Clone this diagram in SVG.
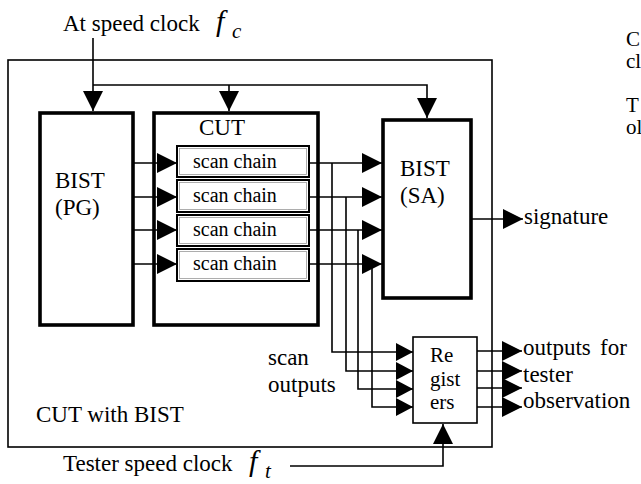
<svg xmlns="http://www.w3.org/2000/svg" width="641" height="484" viewBox="0 0 641 484">
  <style>
    text { font-family: "Liberation Serif", "Times New Roman", serif; fill: #000; }
    .t23 { font-size: 23px; }
    .t21 { font-size: 21px; }
    .t20 { font-size: 20px; }
    .it { font-style: italic; }
    .thin { fill: none; stroke: #000; stroke-width: 1.6; }
    .thick { fill: #fff; stroke: #000; stroke-width: 3.6; }
    .chain { fill: #fff; stroke: #000; stroke-width: 2; }
    .chain-in { fill: none; stroke: #999; stroke-width: 0.8; }
    .wire { fill: none; stroke: #000; stroke-width: 1.6; }
  </style>
  <defs>
    <marker id="ah" viewBox="0 0 20 20" refX="20" refY="10" markerWidth="20" markerHeight="20" markerUnits="userSpaceOnUse" orient="auto">
      <path d="M0,0 L20,10 L0,20 Z" fill="#000"/>
    </marker>
    <marker id="ahs" viewBox="0 0 17 18" refX="17" refY="9" markerWidth="17" markerHeight="18" markerUnits="userSpaceOnUse" orient="auto">
      <path d="M0,0 L17,9 L0,18 Z" fill="#000"/>
    </marker>
  </defs>

  <rect width="641" height="484" fill="#fff"/>

  <!-- clock labels -->
  <g id="clock-labels">
    <text class="t23" x="63" y="31">At speed clock</text>
    <text class="it" x="216" y="31" font-size="30">f</text>
    <text class="it" x="232" y="38" font-size="21">c</text>
    <text class="t23" x="63" y="471">Tester speed clock</text>
    <text class="it" x="249" y="471" font-size="30">f</text>
    <text class="it" x="265" y="478" font-size="21">t</text>
  </g>

  <!-- right margin text fragments -->
  <g id="margin-text">
    <text class="t21" x="626" y="46">C</text>
    <text class="t21" x="626" y="68">cl</text>
    <text class="t21" x="626" y="112">T</text>
    <text class="t21" x="626" y="134">ol</text>
  </g>

  <!-- enclosing chip -->
  <g id="cut-with-bist">
    <rect class="thin" x="8" y="60" width="484" height="387"/>
    <text class="t23" x="36" y="422">CUT with BIST</text>
  </g>

  <!-- pattern generator -->
  <g id="bist-pg">
    <rect class="thick" x="40" y="113" width="93" height="212"/>
    <text class="t23" x="55" y="188">BIST</text>
    <text class="t23" x="55" y="215">(PG)</text>
  </g>

  <!-- circuit under test with scan chains -->
  <g id="cut">
    <rect class="thick" x="154" y="113" width="164" height="212"/>
    <text class="t23" x="199" y="135">CUT</text>
    <rect class="chain" x="177" y="146" width="132" height="31"/>
    <rect class="chain-in" x="179.5" y="148.5" width="127" height="26"/>
    <text class="t20" x="193" y="168">scan chain</text>
    <rect class="chain" x="177" y="180" width="132" height="32"/>
    <rect class="chain-in" x="179.5" y="182.5" width="127" height="27"/>
    <text class="t20" x="193" y="202">scan chain</text>
    <rect class="chain" x="177" y="215" width="132" height="31"/>
    <rect class="chain-in" x="179.5" y="217.5" width="127" height="26"/>
    <text class="t20" x="193" y="236">scan chain</text>
    <rect class="chain" x="177" y="249" width="132" height="32"/>
    <rect class="chain-in" x="179.5" y="251.5" width="127" height="27"/>
    <text class="t20" x="193" y="270">scan chain</text>
  </g>

  <!-- signature analyser -->
  <g id="bist-sa">
    <rect class="thick" x="383" y="120" width="88" height="178"/>
    <text class="t23" x="400" y="176">BIST</text>
    <text class="t23" x="400" y="203">(SA)</text>
  </g>

  <!-- output registers -->
  <g id="registers">
    <rect class="thin" x="413" y="337" width="64" height="86" fill="#fff"/>
    <text class="t21" x="430" y="362">Re</text>
    <text class="t21" x="430" y="386">gist</text>
    <text class="t21" x="430" y="409">ers</text>
  </g>

  <!-- output labels -->
  <g id="labels">
    <text class="t23" x="268" y="365">scan</text>
    <text class="t23" x="268" y="392">outputs</text>
    <text class="t23" x="524" y="224">signature</text>
    <text class="t23" y="355"><tspan x="523">outputs</tspan><tspan x="600">for</tspan></text>
    <text class="t23" x="523" y="382">tester</text>
    <text class="t23" x="523" y="408">observation</text>
  </g>

  <g id="connectors">
    <!-- at-speed clock distribution -->
    <path class="wire" d="M93,38 V111" marker-end="url(#ah)"/>
    <path class="wire" d="M93,85 H427 V118" marker-end="url(#ah)"/>
    <path class="wire" d="M229,85 V111" marker-end="url(#ah)"/>

    <!-- pattern generator to scan chains -->
    <path class="wire" d="M133,163 H177" marker-end="url(#ah)"/>
    <path class="wire" d="M133,197 H177" marker-end="url(#ah)"/>
    <path class="wire" d="M133,230 H177" marker-end="url(#ah)"/>
    <path class="wire" d="M133,264 H177" marker-end="url(#ah)"/>

    <!-- scan chains to signature analyser -->
    <path class="wire" d="M309,163 H382" marker-end="url(#ah)"/>
    <path class="wire" d="M309,197 H382" marker-end="url(#ah)"/>
    <path class="wire" d="M309,230 H382" marker-end="url(#ah)"/>
    <path class="wire" d="M309,264 H382" marker-end="url(#ah)"/>

    <!-- scan outputs tapped to registers -->
    <path class="wire" d="M332,163 V352 H413" marker-end="url(#ahs)"/>
    <path class="wire" d="M346,197 V371 H413" marker-end="url(#ahs)"/>
    <path class="wire" d="M358,230 V389 H413" marker-end="url(#ahs)"/>
    <path class="wire" d="M372,264 V407 H413" marker-end="url(#ahs)"/>

    <!-- signature output -->
    <path class="wire" d="M471,219 H523" marker-end="url(#ah)"/>

    <!-- register outputs to tester -->
    <path class="wire" d="M477,351 H522" marker-end="url(#ah)"/>
    <path class="wire" d="M477,371 H522" marker-end="url(#ah)"/>
    <path class="wire" d="M477,388 H522" marker-end="url(#ah)"/>
    <path class="wire" d="M477,407 H522" marker-end="url(#ah)"/>

    <!-- tester clock -->
    <path class="wire" d="M290,466 H443 V424" marker-end="url(#ah)"/>
  </g>
</svg>
